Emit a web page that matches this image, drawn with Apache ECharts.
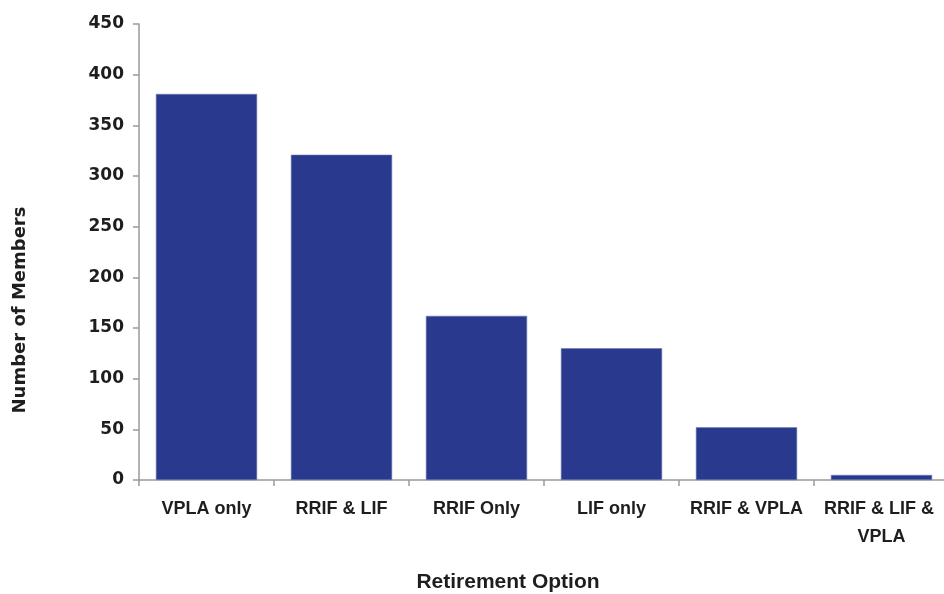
<!DOCTYPE html>
<html>
<head>
<meta charset="utf-8">
<script src="https://cdn.jsdelivr.net/npm/echarts@6/dist/echarts.min.js"></script>
<style>
  html, body { margin: 0; padding: 0; background: #fff; }
  #chart { width: 944px; height: 594px; }
</style>
</head>
<body>
<div id="chart"></div>
<script>
// Members by retirement option
const categories = ['VPLA only', 'RRIF & LIF', 'RRIF Only', 'LIF only', 'RRIF & VPLA', 'RRIF & LIF & VPLA'];
const members = [381, 321, 162, 130, 52, 5];
const yTicks = { min: 0, max: 450, interval: 50 };
const xTitle = 'Retirement Option';
const yTitle = 'Number of Members';

const chart = echarts.init(document.getElementById('chart'));
const sans = '"Liberation Sans", Arial, sans-serif';
const wide = '"DejaVu Sans", "Liberation Sans", sans-serif';
const axisGrey = '#9a9a9a';
const ink = '#1e1e1e';

chart.setOption({
  animation: false,
  grid: { left: 139, right: -5, top: 24, bottom: 114, containLabel: false, outerBoundsMode: 'none' },
  graphic: [
    {
      type: 'text',
      x: 508, y: 582,
      style: { text: xTitle, fontFamily: sans, fontWeight: 'bold', fontSize: 21, fill: ink, align: 'center', verticalAlign: 'middle' }
    },
    {
      type: 'text',
      x: 20, y: 310,
      rotation: Math.PI / 2,
      style: { text: yTitle, fontFamily: wide, fontWeight: 'bold', fontSize: 18, fill: ink, align: 'center', verticalAlign: 'middle' }
    }
  ],
  xAxis: {
    type: 'category',
    data: categories,
    axisLine: { lineStyle: { color: axisGrey, width: 1.5 } },
    axisTick: { show: true, alignWithLabel: false, length: 6, lineStyle: { color: axisGrey, width: 1.5 } },
    axisLabel: {
      interval: 0,
      margin: 15,
      width: 118,
      overflow: 'break',
      lineHeight: 28,
      fontFamily: sans,
      fontWeight: 'bold',
      fontSize: 18,
      color: ink
    }
  },
  yAxis: {
    type: 'value',
    min: yTicks.min,
    max: yTicks.max,
    interval: yTicks.interval,
    axisLine: { show: true, lineStyle: { color: axisGrey, width: 1.5 } },
    axisTick: { show: true, length: 6, lineStyle: { color: axisGrey, width: 1.5 } },
    splitLine: { show: false },
    axisLabel: { margin: 15, fontFamily: wide, fontWeight: 'bold', fontSize: 17, color: ink }
  },
  series: [{
    type: 'bar',
    data: members,
    barCategoryGap: '25%',
    itemStyle: { color: '#28398e', borderColor: '#6f7bb5', borderWidth: 0.6 }
  }]
});
</script>
</body>
</html>
